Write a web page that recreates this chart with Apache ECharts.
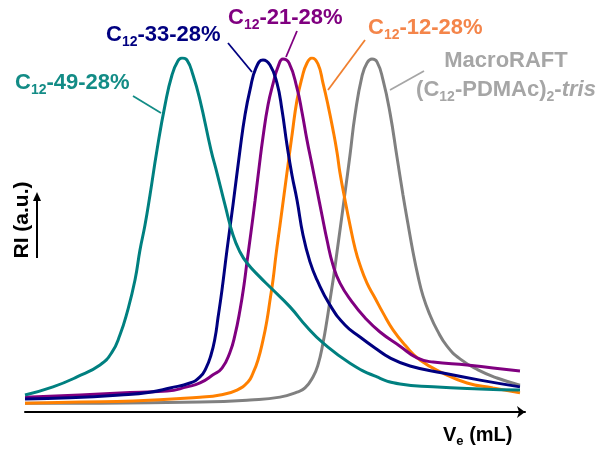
<!DOCTYPE html>
<html>
<head>
<meta charset="utf-8">
<script src="https://cdn.jsdelivr.net/npm/echarts@6/dist/echarts.min.js"></script>
<style>html,body{margin:0;padding:0;background:#fff;}#c{width:599px;height:450px;}</style>
</head>
<body>
<div id="c"></div>
<script>
// Elution volume (arbitrary mL scale) and RI (a.u., normalised)
const c49Ve = [0.0,2.8,5.2,7.5,8.7,9.5,10.2,11.0,11.5,12.0,12.5,13.2,14.0,14.7,15.3,15.7,16.2,16.8,17.5,18.6,19.2,20.0,20.8,21.5,22.2,23.5,24.5,26.5,28.2,29.8,32.5,35.2,37.5,40.8,45.5,49.5];
const c49RI = [4.8,7.1,9.9,13.3,16.9,21.8,28.0,37.3,45.8,52.8,61.3,74.0,86.7,95.2,99.2,100.0,99.4,95.2,88.1,74.0,67.5,58.5,50.0,45.2,42.1,38.1,35.3,29.7,24.0,19.5,13.8,9.9,7.9,7.1,6.5,6.2];

const c33Ve = [0.0,4.5,9.5,12.5,14.5,16.5,17.5,18.1,18.6,19.0,19.3,19.7,20.2,20.8,21.5,22.0,22.5,23.1,23.8,24.5,25.2,25.7,26.2,26.7,27.2,27.8,28.5,29.2,30.5,32.0,33.5,35.0,36.5,38.5,41.8,45.5,49.5];
const c33RI = [3.7,4.0,4.8,5.6,6.8,8.2,9.9,12.4,16.1,20.9,26.6,34.5,45.8,58.5,74.0,83.9,91.0,97.2,99.4,98.0,92.9,85.3,75.4,66.9,59.9,50.0,42.4,37.3,30.2,24.6,21.2,18.1,15.3,13.0,11.0,9.0,7.1];

const c21Ve = [0.0,5.5,9.5,14.2,16.2,17.5,18.8,19.7,20.5,21.0,21.5,21.9,22.2,22.6,23.0,23.4,23.8,24.3,24.8,25.3,25.8,26.4,27.2,27.7,28.2,28.7,29.2,29.7,30.2,30.8,31.5,32.7,34.0,35.5,37.5,39.2,40.8,44.2,46.8,49.5];
const c21RI = [4.2,4.8,5.4,5.9,7.1,8.2,10.5,12.4,16.9,21.8,28.8,35.9,42.4,50.8,59.6,68.9,77.7,86.7,92.7,97.5,99.7,98.6,91.5,84.7,76.8,69.8,62.7,55.6,48.6,41.5,36.4,31.1,26.6,22.6,18.6,15.3,14.1,13.3,12.4,11.6];

const c12Ve = [0.0,5.5,10.8,17.5,19.5,21.2,22.3,22.8,23.3,23.8,24.2,24.5,24.8,25.1,25.5,25.9,26.3,26.7,27.2,27.7,28.2,28.7,29.3,29.8,30.3,30.8,31.2,31.5,32.0,32.5,33.0,33.5,34.2,35.0,35.8,36.8,38.0,39.5,41.8,44.2,46.8,49.5];
const c12RI = [2.5,2.8,3.1,4.2,4.8,6.2,8.5,11.0,14.7,20.3,26.0,31.6,37.3,44.4,52.8,61.3,69.8,78.2,88.1,94.4,98.6,100.0,98.3,92.9,86.7,79.7,73.4,67.5,59.9,52.8,46.3,41.5,36.4,32.2,28.0,23.2,18.9,14.7,11.0,8.2,6.8,5.4];

const macroVe = [0.0,7.5,17.5,22.5,25.5,27.2,28.0,28.8,29.3,29.8,30.2,30.5,30.9,31.2,31.5,32.0,32.5,33.0,33.7,34.2,34.7,35.2,35.8,36.5,37.2,37.8,38.3,38.8,39.3,39.8,40.5,41.2,42.2,43.5,45.3,47.2,49.5];
const macroRI = [2.5,2.5,2.8,3.4,4.2,5.6,6.8,9.9,13.3,19.5,26.0,31.6,39.0,45.2,51.4,61.9,72.6,83.9,94.9,98.6,99.7,98.9,93.8,84.5,72.0,61.3,53.1,45.2,38.4,32.8,27.4,23.2,18.6,15.0,11.9,9.6,7.6];

const seriesNames = ['MacroRAFT','C12-12-28%','C12-21-28%','C12-33-28%','C12-49-28%'];
const xAxisName = 'Ve (mL)';
const yAxisName = 'RI (a.u.)';

function pairs(xs, ys) { return xs.map((x, i) => [x, ys[i]]); }

const lineColors = ['#808080', '#FF8000', '#800080', '#000080', '#008080'];
const dataSets = [
  pairs(macroVe, macroRI),
  pairs(c12Ve, c12RI),
  pairs(c21Ve, c21RI),
  pairs(c33Ve, c33RI),
  pairs(c49Ve, c49RI)
];

const FONT = '"Liberation Sans", Arial, sans-serif';
function richFor(color) {
  return {
    m: { fontSize: 22, fontWeight: 'bold', fontFamily: FONT, fill: color, lineHeight: 22 },
    s: { fontSize: 14, fontWeight: 'bold', fontFamily: FONT, fill: color, lineHeight: 14, padding: [14, 0, 0, 0] },
    i: { fontSize: 22, fontWeight: 'bold', fontStyle: 'italic', fontFamily: FONT, fill: color, lineHeight: 22 }
  };
}
function label(text, x, y, color, align) {
  return { type: 'text', silent: true, style: { text: text, x: x, y: y, rich: richFor(color), align: align || 'left', verticalAlign: 'middle' } };
}
function leader(x1, y1, x2, y2, color) {
  return { type: 'line', silent: true, shape: { x1: x1, y1: y1, x2: x2, y2: y2 }, style: { stroke: color, lineWidth: 1.8 } };
}

const labelColors = ['#A6A6A6', '#F4854A', '#800080', '#000080', '#138C86'];

const chart = echarts.init(document.getElementById('c'), null, { renderer: 'canvas' });
chart.setOption({
  animation: false,
  backgroundColor: '#fff',
  grid: { left: 25, right: 74, top: 58, bottom: 38, containLabel: false },
  xAxis: {
    type: 'value', min: 0, max: 50,
    axisLine: { show: true, symbol: ['none', 'arrow'], symbolSize: [9, 8], lineStyle: { color: '#000', width: 2 } },
    axisTick: { show: false }, axisLabel: { show: false }, splitLine: { show: false }
  },
  yAxis: { type: 'value', min: 0, max: 100, show: false },
  series: dataSets.map((d, i) => ({
    name: seriesNames[i], type: 'line', data: d, showSymbol: false, smooth: 0.5,
    lineStyle: { color: lineColors[i], width: 3 }, itemStyle: { color: lineColors[i] }, z: 2 + i
  })),
  graphic: [
    // curve labels (y = vertical middle of the main text)
    label('{m|C}{s|12}{m|-49-28%}', 15, 83, labelColors[4]),
    leader(133, 96, 161, 113, labelColors[4]),
    label('{m|C}{s|12}{m|-33-28%}', 106, 35, labelColors[3]),
    leader(228, 43, 252, 72, labelColors[3]),
    label('{m|C}{s|12}{m|-21-28%}', 228, 18, labelColors[2]),
    leader(297, 31, 286, 57, labelColors[2]),
    label('{m|C}{s|12}{m|-12-28%}', 368, 28, labelColors[1]),
    leader(365, 40, 328, 90, '#F08030'),
    label('{m|MacroRAFT}', 506, 61, labelColors[0], 'center'),
    label('{m|(C}{s|12}{m|-PDMAc)}{s|2}{m|-}{i|tris}', 506, 90, labelColors[0], 'center'),
    leader(424, 71, 390, 90, labelColors[0]),
    // x axis name
    { type: 'text', silent: true, style: { text: '{m|V}{s|e}{m| (mL)}', x: 443, y: 435, align: 'left', verticalAlign: 'middle',
      rich: {
        m: { fontSize: 20, fontWeight: 'bold', fontFamily: FONT, fill: '#000', lineHeight: 20 },
        s: { fontSize: 13, fontWeight: 'bold', fontFamily: FONT, fill: '#000', lineHeight: 13, padding: [12, 0, 0, 0] }
      } } },
    // y axis name (rotated)
    { type: 'text', silent: true, x: 22, y: 220, rotation: Math.PI / 2,
      style: { text: yAxisName, x: 0, y: 0, align: 'center', verticalAlign: 'middle', fill: '#000', font: 'bold 21px ' + FONT } },
    { type: 'line', silent: true, shape: { x1: 37, y1: 258, x2: 37, y2: 198 }, style: { stroke: '#000', lineWidth: 2 } },
    { type: 'polygon', silent: true, shape: { points: [[37, 192], [33, 201], [41, 201]] }, style: { fill: '#000' } }
  ]
});
</script>
</body>
</html>
